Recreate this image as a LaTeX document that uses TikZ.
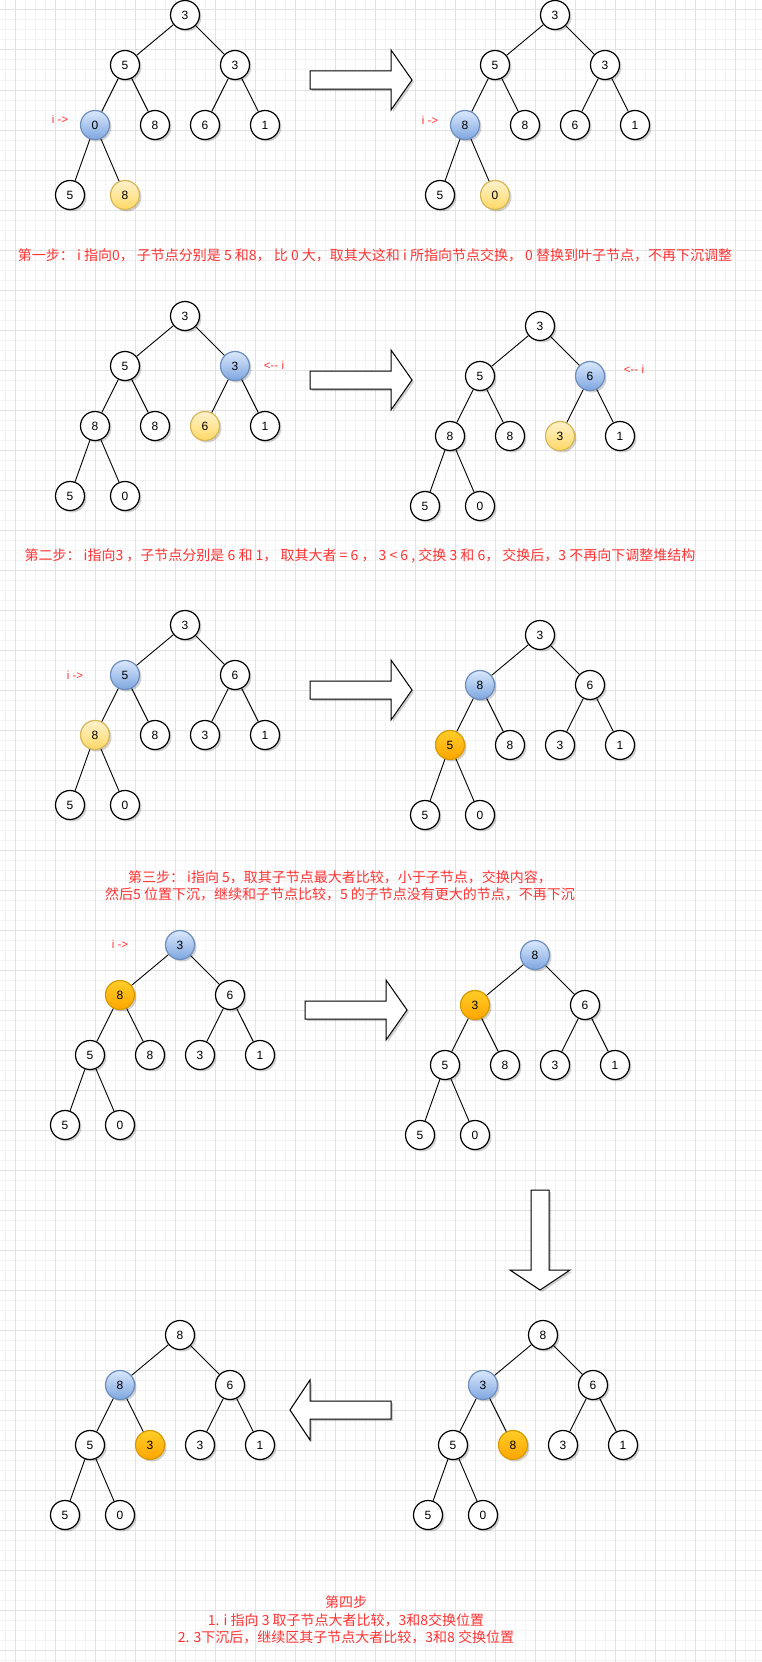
\documentclass[tikz,border=0pt]{standalone}
\usepackage{fontspec}
\setmainfont{Liberation Sans}
\newfontfamily\cjk{Noto Sans CJK SC}
\usetikzlibrary{shadows}
\definecolor{bluetop}{HTML}{DAE8FC}
\definecolor{bluebot}{HTML}{7EA6E0}
\definecolor{bluestroke}{HTML}{6C8EBF}
\definecolor{ytop}{HTML}{FFF2CC}
\definecolor{ybot}{HTML}{FFD966}
\definecolor{ystroke}{HTML}{D6B656}
\definecolor{otop}{HTML}{FFCD28}
\definecolor{obot}{HTML}{FFA500}
\definecolor{ostroke}{HTML}{D79B00}
\definecolor{redtxt}{HTML}{FF3333}
\definecolor{gridmajor}{HTML}{E2E2E2}
\definecolor{gridminor}{HTML}{F4F4F4}
\tikzset{
  nd/.style={circle, draw=black, line width=1.2pt, fill=white, minimum size=29pt, inner sep=0pt,
    font=\fontsize{12}{14}\selectfont,
    drop shadow={shadow xshift=2pt, shadow yshift=-2pt, opacity=0.18, fill=black}},
  hb/.style={draw=bluestroke, top color=bluetop, bottom color=bluebot},
  hy/.style={draw=ystroke, top color=ytop, bottom color=ybot},
  ho/.style={draw=ostroke, top color=otop, bottom color=obot},
  n1/.style={}, n2/.style={}, n3/.style={}, n4/.style={}, n5/.style={},
  n6/.style={}, n7/.style={}, n8/.style={}, n9/.style={},
  lnk/.style={draw=black, line width=0.9pt},
  bigarrow/.style={draw=black, line width=1pt, fill=white,
    drop shadow={shadow xshift=2pt, shadow yshift=-2pt, opacity=0.18, fill=black}},
  lbl/.style={text=redtxt, font=\fontsize{11.5}{13}\selectfont, inner sep=0pt},
  captxt/.style={text=redtxt, font=\cjk\fontsize{14}{17.5}\selectfont, align=center, inner sep=0pt},
  gmaj/.style={draw=gridmajor, line width=1pt},
  gmin/.style={draw=gridminor, line width=1pt}
}
% heap tree: \tp is the name prefix, the scope is shifted to the root
\newcommand\htree[9]{%
  \node[nd,n1] (\tp1) at (0,0) {#1};
  \node[nd,n2] (\tp2) at (-60,50) {#2};
  \node[nd,n3] (\tp3) at (50,50) {#3};
  \node[nd,n4] (\tp4) at (-90,110) {#4};
  \node[nd,n5] (\tp5) at (-30,110) {#5};
  \node[nd,n6] (\tp6) at (20,110) {#6};
  \node[nd,n7] (\tp7) at (80,110) {#7};
  \node[nd,n8] (\tp8) at (-115,180) {#8};
  \node[nd,n9] (\tp9) at (-60,180) {#9};
  \draw[lnk] (\tp1) -- (\tp2);
  \draw[lnk] (\tp1) -- (\tp3);
  \draw[lnk] (\tp2) -- (\tp4);
  \draw[lnk] (\tp2) -- (\tp5);
  \draw[lnk] (\tp3) -- (\tp6);
  \draw[lnk] (\tp3) -- (\tp7);
  \draw[lnk] (\tp4) -- (\tp8);
  \draw[lnk] (\tp4) -- (\tp9);
}
\newcommand\rarrow[2]{%
  \path[bigarrow] (#1,#2-9) -- ++(81,0) -- ++(0,-21) -- ++(21,30) -- ++(-21,30) -- ++(0,-21) -- ++(-81,0) -- cycle;}
\begin{document}
\begin{tikzpicture}[x=1pt,y=-1pt]
\useasboundingbox (0,0) rectangle (762,1662);
\fill[white] (0,0) rectangle (762,1662);
% grid
\foreach \gx in {5,15,...,755} {\draw[gmin] (\gx,0) -- (\gx,1662);}
\foreach \gy in {0,10,...,1660} {\draw[gmin] (0,\gy) -- (762,\gy);}
\foreach \gx in {15,55,...,755} {\draw[gmaj] (\gx,0) -- (\gx,1662);}
\foreach \gy in {10,50,...,1650} {\draw[gmaj] (0,\gy) -- (762,\gy);}

% ---- step 1
\begin{scope}[shift={(185,15)}, n4/.style=hb, n9/.style=hy]
  \def\tp{a}\htree{3}{5}{3}{0}{8}{6}{1}{5}{8}
\end{scope}
\begin{scope}[shift={(555,15)}, n4/.style=hb, n9/.style=hy]
  \def\tp{b}\htree{3}{5}{3}{8}{8}{6}{1}{5}{0}
\end{scope}
\node[lbl] (la) at (60,119) {i ->};
\node[lbl] (lb) at (430,120) {i ->};
\rarrow{310}{80}
\node[captxt] (c1) at (375,255) {第一步： i 指向0， 子节点分别是 5 和8， 比 0 大，取其大这和 i 所指向节点交换， 0 替换到叶子节点，不再下沉调整};

% ---- step 2
\begin{scope}[shift={(185,316)}, n3/.style=hb, n6/.style=hy]
  \def\tp{c}\htree{3}{5}{3}{8}{8}{6}{1}{5}{0}
\end{scope}
\begin{scope}[shift={(540,326)}, n3/.style=hb, n6/.style=hy]
  \def\tp{d}\htree{3}{5}{6}{8}{8}{3}{1}{5}{0}
\end{scope}
\node[lbl] (lc) at (274,365) {<{-}{-} i};
\node[lbl] (ld) at (634,369) {<{-}{-} i};
\rarrow{310}{380}
\node[captxt] (c2) at (360,556) {第二步： i指向3 ，子节点分别是 6 和 1， 取其大者 = 6 ， 3 < 6 , 交换 3 和 6， 交换后，3 不再向下调整堆结构};

% ---- step 3
\begin{scope}[shift={(185,625)}, n2/.style=hb, n4/.style=hy]
  \def\tp{e}\htree{3}{5}{6}{8}{8}{3}{1}{5}{0}
\end{scope}
\begin{scope}[shift={(540,635)}, n2/.style=hb, n4/.style=ho]
  \def\tp{f}\htree{3}{8}{6}{5}{8}{3}{1}{5}{0}
\end{scope}
\node[lbl] (le) at (75,675) {i ->};
\rarrow{310}{690}
\node[captxt] (c3) at (340,886) {第三步： i指向 5，取其子节点最大者比较，小于子节点，交换内容，\\然后5 位置下沉，继续和子节点比较，5 的子节点没有更大的节点，不再下沉};

% ---- step 4
\begin{scope}[shift={(180,945)}, n1/.style=hb, n2/.style=ho]
  \def\tp{g}\htree{3}{8}{6}{5}{8}{3}{1}{5}{0}
\end{scope}
\begin{scope}[shift={(535,955)}, n1/.style=hb, n2/.style=ho]
  \def\tp{h}\htree{8}{3}{6}{5}{8}{3}{1}{5}{0}
\end{scope}
\node[lbl] (lg) at (120,944) {i ->};
\rarrow{305}{1010}
\path[bigarrow] (531,1190) -- (549,1190) -- (549,1270) -- (570,1270) -- (540,1290) -- (510,1270) -- (531,1270) -- cycle;

% ---- step 5
\begin{scope}[shift={(543,1335)}, n2/.style=hb, n5/.style=ho]
  \def\tp{k}\htree{8}{3}{6}{5}{8}{3}{1}{5}{0}
\end{scope}
\begin{scope}[shift={(180,1335)}, n2/.style=hb, n5/.style=ho]
  \def\tp{m}\htree{8}{8}{6}{5}{3}{3}{1}{5}{0}
\end{scope}
\path[bigarrow] (290,1410) -- (310,1380) -- (310,1401) -- (391,1401) -- (391,1419) -- (310,1419) -- (310,1440) -- cycle;
\node[captxt] (c4) at (346,1620) {第四步\\1. i 指向 3 取子节点大者比较，3和8交换位置\\2. 3下沉后，继续区其子节点大者比较，3和8 交换位置};
\end{tikzpicture}
\end{document}
